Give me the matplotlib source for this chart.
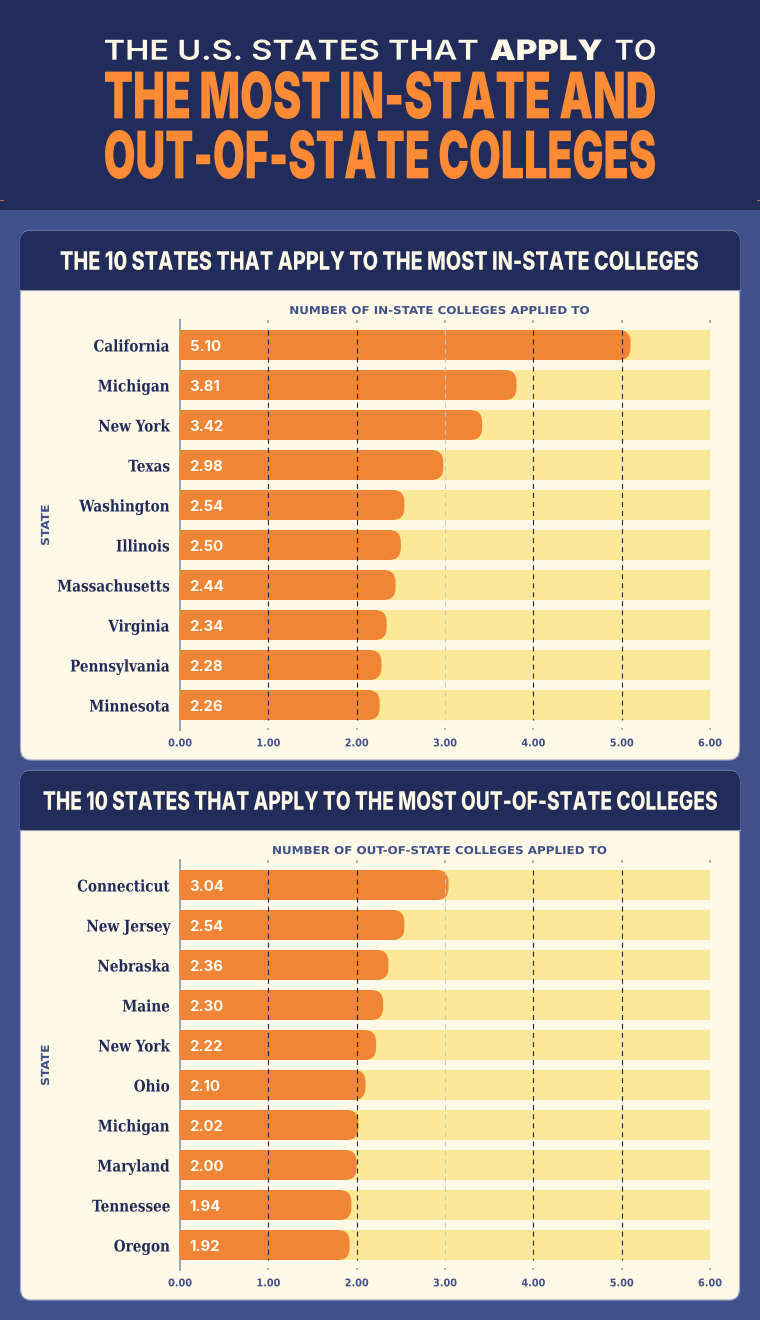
import matplotlib
matplotlib.use('Agg')
import matplotlib.pyplot as plt
from matplotlib.patches import FancyBboxPatch, PathPatch, Rectangle
from matplotlib.path import Path
from matplotlib.patheffects import AbstractPathEffect
from matplotlib.transforms import Affine2D

plt.rcParams['lines.scale_dashes'] = False

in_states = ['California', 'Michigan', 'New York', 'Texas', 'Washington',
             'Illinois', 'Massachusetts', 'Virginia', 'Pennsylvania', 'Minnesota']
in_values = [5.10, 3.81, 3.42, 2.98, 2.54, 2.50, 2.44, 2.34, 2.28, 2.26]
out_states = ['Connecticut', 'New Jersey', 'Nebraska', 'Maine', 'New York',
              'Ohio', 'Michigan', 'Maryland', 'Tennessee', 'Oregon']
out_values = [3.04, 2.54, 2.36, 2.30, 2.22, 2.10, 2.02, 2.00, 1.94, 1.92]
x_ticks = [0, 1, 2, 3, 4, 5, 6]
x_max = 6

W, H = 760, 1320
BG = '#40508a'
NAVY = '#212c5b'
CREAM = '#fff9e7'
PALE = '#fce998'
ORANGE = '#f08535'
TITLE_ORANGE = '#fd8a35'
EDGE = '#a3a9c4'
AXIS_GREY = '#a3a6b8'
DASH_DARK = '#1e2444'
DASH_LIGHT = '#c9c8c2'


class FitBox(AbstractPathEffect):
    """Draw a text so that its ink fills a box given in pixels from the top left."""
    def __init__(self, x0, top, x1, bottom):
        super().__init__()
        self.box = (x0, top, x1, bottom)

    def draw_path(self, renderer, gc, tpath, affine, rgbFace=None):
        e = tpath.transformed(affine).get_extents()
        x0, top, x1, bottom = self.box
        fit = Affine2D().translate(-e.x0, -e.y0).scale(
            (x1 - x0) / e.width, (bottom - top) / e.height
        ).translate(x0, H - bottom)
        renderer.draw_path(gc, tpath, affine + fit, rgbFace)


class Stretch(AbstractPathEffect):
    """Scale a text about its horizontal middle and its baseline, then shift it down by dy pixels."""
    def __init__(self, sx=1.0, sy=1.0, dy=0.0):
        super().__init__()
        self.sx, self.sy, self.dy = sx, sy, dy

    def draw_path(self, renderer, gc, tpath, affine, rgbFace=None):
        e = tpath.get_extents()
        c = (e.x0 + e.x1) / 2
        a = Affine2D().translate(-c, 0).scale(self.sx, self.sy).translate(c, 0)
        renderer.draw_path(gc, tpath, a + affine + Affine2D().translate(0, -self.dy), rgbFace)


def rounded_bar(value, row, height=0.75, radius_px=12, x_px=530 / 6, y_px=40):
    rx, ry = radius_px / x_px, radius_px / y_px
    t, b = row - height / 2, row + height / 2
    rx = min(rx, value)
    verts = [(0, t), (value - rx, t), (value, t), (value, t + ry),
             (value, b - ry), (value, b), (value - rx, b), (0, b), (0, t)]
    codes = [Path.MOVETO, Path.LINETO, Path.CURVE3, Path.CURVE3,
             Path.LINETO, Path.CURVE3, Path.CURVE3, Path.LINETO, Path.CLOSEPOLY]
    return Path(verts, codes)


def px_axes(x0, top, x1, bottom, **kw):
    return fig.add_axes([x0 / W, 1 - bottom / H, (x1 - x0) / W, (bottom - top) / H], **kw)


def chart(top, states, values, xlabel, label_x):
    ax = px_axes(180, top, 710, top + 410)
    ax.patch.set_alpha(0)
    rows = list(range(len(states)))
    ax.barh(rows, [x_max] * len(rows), height=0.75, color=PALE, zorder=1)
    for r, v in zip(rows, values):
        ax.add_patch(PathPatch(rounded_bar(v, r), facecolor=ORANGE, edgecolor='none', zorder=2))
        ax.annotate(f'{v:.2f}', xy=(0, r), xytext=(7, -1.2), textcoords='offset points',
                    ha='left', va='center', color='#fffdf5', family='Inter',
                    weight='bold', fontsize=10.8, zorder=5)
    for t in x_ticks[1:]:
        col = DASH_LIGHT if t in (3, 6) else DASH_DARK
        ax.vlines(t, -0.375, 9.375, color=col, lw=0.8, linestyles=(0, (3.6, 2.9)), zorder=4)
    ax.set_xlim(0, x_max)
    ax.set_ylim(9.625, -0.625)
    ax.set_xticks(x_ticks)
    ax.set_xticklabels([f'{t:.2f}' for t in x_ticks], family='DejaVu Sans', weight='bold',
                       fontsize=7.6, color=BG, path_effects=[Stretch(0.92, 1.0)])
    ax.set_yticks(rows)
    ax.set_yticklabels(states, family='DejaVu Serif', weight='bold',
                       fontsize=9.8, color=NAVY, path_effects=[Stretch(1.0, 1.18, dy=1.0)])
    ax.tick_params(axis='x', length=1.8, width=1.2, color=AXIS_GREY, direction='in',
                   top=True, bottom=True, pad=6)
    ax.tick_params(axis='y', length=0, pad=7.2)
    for s in ('top', 'right', 'bottom'):
        ax.spines[s].set_visible(False)
    ax.spines['left'].set_color(AXIS_GREY)
    ax.spines['left'].set_linewidth(1.5)
    ax.spines['left'].set_zorder(0.5)
    ax.set_xlabel(xlabel, family='DejaVu Sans', weight='bold', fontsize=7.8, color=BG, va='center',
                  path_effects=[Stretch(1.1, 1.0)])
    ax.xaxis.set_label_position('top')
    ax.xaxis.set_label_coords((label_x - 180) / 530, 1 + 6 / 410)
    ax.set_ylabel('STATE', family='DejaVu Sans', weight='bold', fontsize=8, color=BG, va='center',
                  path_effects=[Stretch(1.1, 1.0)])
    ax.yaxis.set_label_coords((46 - 180) / 530, 0.5)
    return ax


fig = plt.figure(figsize=(W / 100, H / 100), dpi=100, facecolor=BG)
bg = fig.add_axes([0, 0, 1, 1])
bg.set_xlim(0, W)
bg.set_ylim(H, 0)
bg.axis('off')

bg.add_patch(Rectangle((0, 0), W, 210, facecolor=NAVY, edgecolor='none'))
bg.plot([0, 3], [200, 200], color='#b5703a', lw=0.8)
bg.plot([757, 760], [200, 200], color='#b5703a', lw=0.8)

for top, bottom in ((230.5, 760), (770.5, 1300)):
    box = dict(boxstyle='round,pad=0,rounding_size=11')
    bg.add_patch(FancyBboxPatch((20.5, top), 719, bottom - top, facecolor=CREAM,
                                edgecolor=EDGE, lw=0.9, **box))
    bg.add_patch(FancyBboxPatch((20, top), 720, 40, facecolor=NAVY, edgecolor='none', **box))
    bg.add_patch(Rectangle((20, top + 15), 720, 44.5, facecolor=NAVY, edgecolor='none'))
    bg.plot([20.5, 739.5], [top + 59.5, top + 59.5], color='#8f97b8', lw=0.8)


def head(s, box, size, weight, color):
    xm = (box[0] + box[2]) / 2 / W
    ym = 1 - (box[1] + box[3]) / 2 / H
    fig.text(xm, ym, s, family='Inter', weight=weight, fontsize=size, color=color,
             ha='center', va='center', path_effects=[FitBox(*box)])


head('THE U.S. STATES THAT', (105, 39.5, 477.5, 60), 20.5, 600, CREAM)
head('APPLY', (490.5, 39.5, 602, 60), 20.5, 900, CREAM)
head('TO', (615.6, 39.5, 655, 60), 20.5, 600, CREAM)
head('THE MOST IN-STATE AND', (105, 71, 655, 119), 27, 900, TITLE_ORANGE)
head('OUT-OF-STATE COLLEGES', (105, 130, 655, 179), 27, 900, TITLE_ORANGE)
head('THE 10 STATES THAT APPLY TO THE MOST IN-STATE COLLEGES', (60.6, 251, 698, 270), 14, 800, CREAM)
head('THE 10 STATES THAT APPLY TO THE MOST OUT-OF-STATE COLLEGES', (43.5, 791, 717, 810), 14, 800, CREAM)

chart(320, in_states, in_values, 'NUMBER OF IN-STATE COLLEGES APPLIED TO', 439.5)
chart(860, out_states, out_values, 'NUMBER OF OUT-OF-STATE COLLEGES APPLIED TO', 439.5)

fig.savefig('out.png', dpi=100, facecolor=BG)
